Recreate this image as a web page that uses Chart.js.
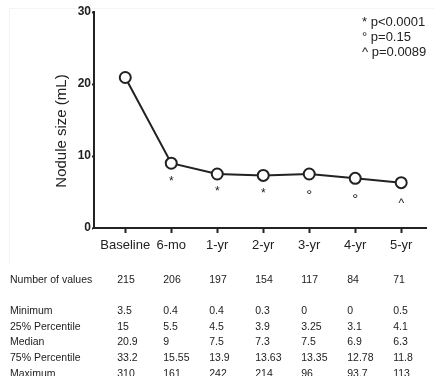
<!DOCTYPE html>
<html>
<head>
<meta charset="utf-8">
<script src="https://cdn.jsdelivr.net/npm/chart.js@4.4.1/dist/chart.umd.min.js"></script>
<style>
  html, body { margin: 0; padding: 0; background: #fff; }
  #wrap { width: 434px; height: 376px; position: relative; }
</style>
</head>
<body>
<div id="wrap"><canvas id="chart" width="434" height="376"></canvas></div>
<script>
// Chart data
const timepoints = ['Baseline', '6-mo', '1-yr', '2-yr', '3-yr', '4-yr', '5-yr'];
const medianSize = [20.9, 9, 7.5, 7.3, 7.5, 6.9, 6.3];
const sigMarks = ['', '*', '*', '*', '°', '°', '^'];
const pLegend = ['* p<0.0001', '° p=0.15', '^ p=0.0089'];
const yTicks = [0, 10, 20, 30];
const yTitle = 'Nodule size (mL)';

// Table rows under the chart
const nValues = [215, 206, 197, 154, 117, 84, 71];
const minValues = [3.5, 0.4, 0.4, 0.3, 0, 0, 0.5];
const p25Values = [15, 5.5, 4.5, 3.9, 3.25, 3.1, 4.1];
const medianValues = [20.9, 9, 7.5, 7.3, 7.5, 6.9, 6.3];
const p75Values = [33.2, 15.55, 13.9, 13.63, 13.35, 12.78, 11.8];
const maxValues = [310, 161, 242, 214, 96, 93.7, 113];

const FONT = '"Liberation Sans", Arial, sans-serif';
const INK = '#222';

const tableRows = [
    { label: 'Number of values', values: nValues, y: 280 },
    { label: 'Minimum', values: minValues, y: 311 },
    { label: '25% Percentile', values: p25Values, y: 327 },
    { label: 'Median', values: medianValues, y: 342 },
    { label: '75% Percentile', values: p75Values, y: 358 },
    { label: 'Maximum', values: maxValues, y: 374 }
];

// draws the faint frame, y title, significance marks, p-value key and the stats table
const extrasPlugin = {
    id: 'extras',
    beforeDraw(chart) {
        const ctx = chart.ctx;
        ctx.save();
        ctx.strokeStyle = '#f4f4f4';
        ctx.lineWidth = 1;
        ctx.beginPath();
        ctx.moveTo(9.5, 265);
        ctx.lineTo(9.5, 8.5);
        ctx.lineTo(434, 8.5);
        ctx.stroke();
        ctx.restore();
    },
    afterDraw(chart) {
        const ctx = chart.ctx;
        const x = chart.scales.x;
        const y = chart.scales.y;
        ctx.save();
        ctx.fillStyle = INK;

        // y axis title
        ctx.save();
        ctx.translate(62, 131);
        ctx.rotate(-Math.PI / 2);
        ctx.textAlign = 'center';
        ctx.textBaseline = 'middle';
        ctx.font = '15px ' + FONT;
        ctx.fillText(yTitle, 0, 0);
        ctx.restore();

        // marks under the points
        ctx.textAlign = 'center';
        ctx.textBaseline = 'middle';
        sigMarks.forEach((m, i) => {
            if (!m) return;
            const px = x.getPixelForValue(i);
            const py = y.getPixelForValue(medianSize[i]);
            let off = 18;
            ctx.font = '12px ' + FONT;
            if (m === '°') { off = 22; ctx.font = '15px ' + FONT; }
            if (m === '^') off = 21;
            ctx.fillText(m, px, py + off);
        });

        // p-value key, top right
        ctx.textAlign = 'left';
        ctx.font = '13px ' + FONT;
        pLegend.forEach((t, i) => {
            ctx.fillText(t, 362, 22 + i * 15);
        });

        // table
        ctx.font = '10.5px ' + FONT;
        tableRows.forEach(row => {
            ctx.textAlign = 'left';
            ctx.fillText(row.label, 10, row.y);
            row.values.forEach((v, i) => {
                ctx.fillText(String(v), x.getPixelForValue(i) - 8, row.y);
            });
        });
        ctx.restore();
    }
};

new Chart(document.getElementById('chart'), {
    type: 'line',
    data: {
        datasets: [{
            data: medianSize.map((v, i) => ({ x: i, y: v })),
            borderColor: INK,
            borderWidth: 2,
            backgroundColor: '#fff',
            pointBackgroundColor: '#fff',
            pointBorderColor: INK,
            pointBorderWidth: 2,
            pointRadius: 5.5,
            tension: 0,
            fill: false
        }]
    },
    options: {
        responsive: false,
        animation: false,
        devicePixelRatio: 1,
        layout: { padding: { top: 12, left: 0, right: 0, bottom: 0 } },
        plugins: {
            legend: { display: false },
            tooltip: { enabled: false }
        },
        scales: {
            x: {
                type: 'linear',
                min: -0.68,
                max: 6.55,
                afterFit: scale => { scale.height = 148; },
                afterBuildTicks: scale => {
                    scale.ticks = timepoints.map((_, i) => ({ value: i }));
                },
                border: { display: true, color: INK, width: 2 },
                grid: { display: true, drawOnChartArea: false, tickLength: 5, tickColor: INK, tickWidth: 2 },
                ticks: {
                    autoSkip: false,
                    maxRotation: 0,
                    padding: 5,
                    color: INK,
                    font: { family: FONT, size: 13 },
                    callback: v => timepoints[v]
                }
            },
            y: {
                min: 0,
                max: 30,
                afterFit: scale => { scale.width = 94; },
                afterBuildTicks: scale => {
                    scale.ticks = yTicks.map(v => ({ value: v }));
                },
                border: { display: true, color: INK, width: 2 },
                grid: { display: true, drawOnChartArea: false, tickLength: 2, tickColor: INK, tickWidth: 2 },
                ticks: {
                    padding: 1,
                    color: INK,
                    font: { family: FONT, size: 12, weight: 'bold' }
                }
            }
        }
    },
    plugins: [extrasPlugin]
});
</script>
</body>
</html>
